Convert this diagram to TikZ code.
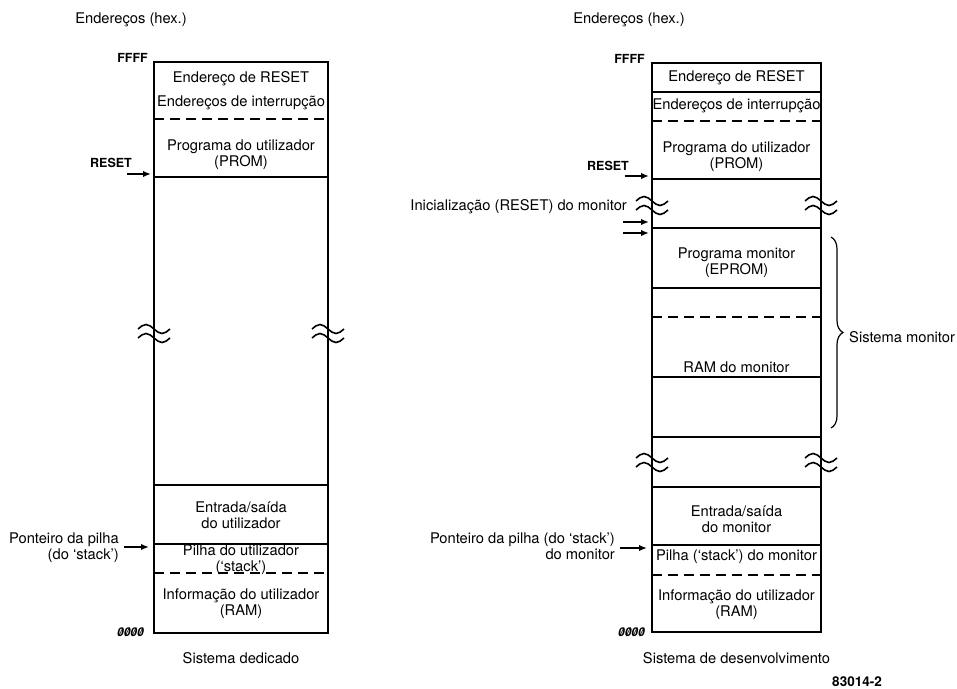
\documentclass[tikz,border=0pt]{standalone}
\usepackage{fontspec}
\setmainfont{TeX Gyre Heros}
\usetikzlibrary{arrows.meta,decorations.pathreplacing}

\newcommand{\slzero}{\ooalign{0\cr\hidewidth/\hidewidth\cr}}

\begin{document}
\begin{tikzpicture}[x=1pt,y=-1pt,
  lbl/.style={font=\fontsize{14.7}{16}\selectfont,inner sep=0pt,align=center},
  tag/.style={font=\fontsize{12.5}{14}\selectfont\bfseries,inner sep=0pt},
  zerotag/.style={font=\fontsize{12}{14}\selectfont\bfseries\itshape,inner sep=0pt},
  outline/.style={line width=2.8pt},
  divider/.style={line width=1.4pt},
  dashdiv/.style={line width=1.5pt,dash pattern=on 10pt off 6pt},
  ptr/.style={line width=1.6pt,-{Latex[length=8pt,width=6.5pt]}},
  pics/wavebreak/.style={code={
    \draw[line width=1.6pt] (-16,-4) sin (-8,-8.5) cos (0,-4) sin (8,0.5) cos (16,-4);
    \draw[line width=1.6pt] (-16,5) sin (-8,0.5) cos (0,5) sin (8,9.5) cos (16,5);
  }}]
  \useasboundingbox (0,0) rectangle (957,688);

  % dedicated system
  \node[lbl] (lhead) at (131,20) {Endereços (hex.)};
  \node[tag,anchor=east] (ltop) at (148,58) {FFFF};
  \node[zerotag,anchor=east] (lbot) at (144,632) {\slzero\slzero\slzero\slzero};

  \draw[outline] (154,62) rectangle (328,633);
  \draw[dashdiv] (154,119) -- (328,119);
  \draw[divider] (154,177) -- (328,177);
  \draw[divider] (154,485) -- (328,485);
  \draw[divider] (154,544) -- (328,544);
  \draw[dashdiv] (154,573) -- (328,573);
  \pic at (154,333) {wavebreak};
  \pic at (328,333) {wavebreak};

  \node[lbl] (lrst) at (241,79) {Endereço de RESET};
  \node[lbl] (lirq) at (241,103) {Endereços de interrupção};
  \node[lbl] (lprog) at (241,154.5) {Programa do utilizador\\(PROM)};
  \node[lbl] (lio) at (241,515.5) {Entrada/saída\\do utilizador};
  \node[lbl] (lstk) at (241,559.5) {Pilha do utilizador\\(`stack')};
  \node[lbl] (lram) at (241,604) {Informação do utilizador\\(RAM)};

  \node[tag] (lreset) at (111,163) {RESET};
  \coordinate (lresetA) at (127,174);
  \coordinate (lresetB) at (151,174);
  \draw[ptr] (lresetA) -- (lresetB);

  \node[lbl,align=right,anchor=east] (lsp) at (119,547.5) {Ponteiro da pilha\\(do `stack')};
  \coordinate (lspA) at (124,547);
  \coordinate (lspB) at (149,547);
  \draw[ptr] (lspA) -- (lspB);

  \node[lbl] (lname) at (241,658) {Sistema dedicado};

  % development system
  \node[lbl] (rhead) at (629,20) {Endereços (hex.)};
  \node[tag,anchor=east] (rtop) at (645,59) {FFFF};
  \node[zerotag,anchor=east] (rbot) at (645,632) {\slzero\slzero\slzero\slzero};

  \draw[outline] (652,63) rectangle (821,632);
  \draw[divider] (652,92) -- (821,92);
  \draw[dashdiv] (652,121) -- (821,121);
  \draw[divider] (652,179) -- (821,179);
  \draw[divider] (652,228) -- (821,228);
  \draw[divider] (652,288) -- (821,288);
  \draw[dashdiv] (652,317) -- (821,317);
  \draw[divider] (652,377) -- (821,377);
  \draw[divider] (652,437) -- (821,437);
  \draw[divider] (652,487) -- (821,487);
  \draw[divider] (652,545) -- (821,545);
  \draw[dashdiv] (652,575) -- (821,575);
  \pic at (652,205) {wavebreak};
  \pic at (821,205) {wavebreak};
  \pic at (652,462) {wavebreak};
  \pic at (821,462) {wavebreak};

  \node[lbl] (rrst) at (736.5,78) {Endereço de RESET};
  \node[lbl] (rirq) at (736.5,106) {Endereços de interrupção};
  \node[lbl] (rprog) at (736.5,156.5) {Programa do utilizador\\(PROM)};
  \node[lbl] (rmon) at (736.5,263) {Programa monitor\\(EPROM)};
  \node[lbl] (rmram) at (736.5,367) {RAM do monitor};
  \node[lbl] (rio) at (736.5,519.5) {Entrada/saída\\do monitor};
  \node[lbl] (rstk) at (736.5,557) {Pilha (`stack') do monitor};
  \node[lbl] (rram) at (736.5,605) {Informação do utilizador\\(RAM)};

  \node[tag] (rreset) at (608,166) {RESET};
  \coordinate (rresetA) at (625,176);
  \coordinate (rresetB) at (649,176);
  \draw[ptr] (rresetA) -- (rresetB);

  \node[lbl,anchor=east] (rinit) at (627,207) {Inicialização (RESET) do monitor};
  \coordinate (rinitA) at (623,222);
  \coordinate (rinitB) at (649,222);
  \coordinate (rinitC) at (623,233);
  \coordinate (rinitD) at (649,233);
  \draw[ptr] (rinitA) -- (rinitB);
  \draw[ptr] (rinitC) -- (rinitD);

  \node[lbl,align=right,anchor=east] (rsp) at (615,546.5) {Ponteiro da pilha (do `stack')\\do monitor};
  \coordinate (rspA) at (620,548);
  \coordinate (rspB) at (647,548);
  \draw[ptr] (rspA) -- (rspB);

  \coordinate (bracetop) at (831,237);
  \coordinate (bracebot) at (831,428);
  \draw[line width=1.2pt,decorate,decoration={brace,amplitude=12pt}] (bracetop) -- (bracebot);
  \node[lbl,anchor=west] (rsys) at (849,337) {Sistema monitor};

  \node[lbl] (rname) at (736.5,658) {Sistema de desenvolvimento};
  \node[tag,font=\fontsize{13.5}{15}\selectfont\bfseries] (figno) at (857,682) {83014-2};
\end{tikzpicture}
\end{document}
